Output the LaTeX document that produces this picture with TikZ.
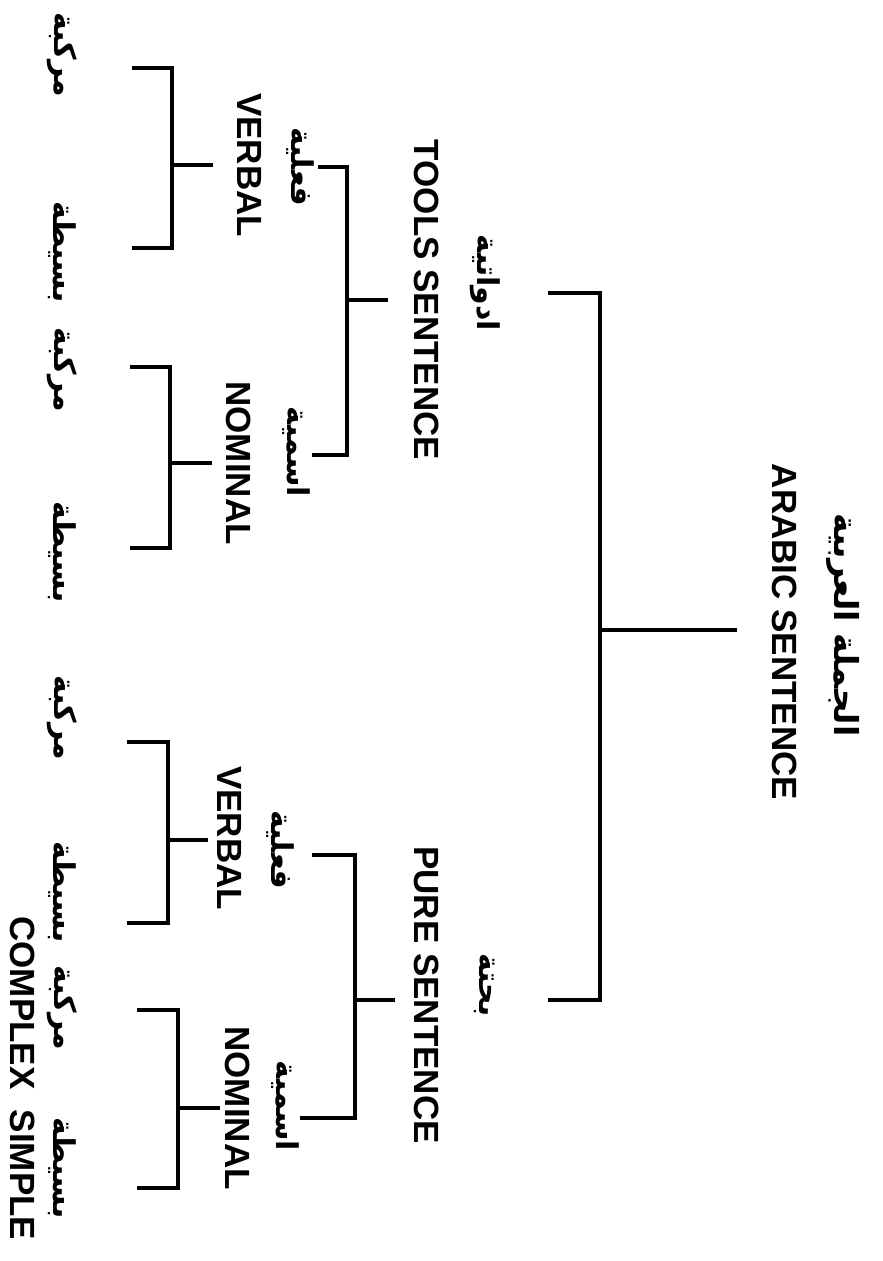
\documentclass[tikz,border=0pt]{standalone}
\usepackage{fontspec}
\setmainfont{Liberation Sans}
\newfontfamily\arfont[Script=Arabic]{DejaVu Sans}
\TeXXeTstate=1
\begin{document}
\begin{tikzpicture}[x=1pt,y=-1pt,
  en/.style={font={\fontsize{35}{40}\selectfont\bfseries}, rotate=-90, inner sep=0pt},
  ar/.style={font={\arfont\fontsize{30}{34}\selectfont\bfseries}, rotate=-90, inner sep=0pt},
  title/.style={font={\arfont\fontsize{33}{38}\selectfont\bfseries}, rotate=-90, inner sep=0pt},
  ln/.style={line width=3.5pt, line join=miter}]
\useasboundingbox[fill=white] (0,0) rectangle (883,1261);

% ---------- root ----------
\node[title] (rootar) at (843,625) {\beginR الجملة العربية\endR};
\node[en] (rooten) at (785,632) {ARABIC SENTENCE};
\coordinate (R-s) at (737,630);
\coordinate (R-m) at (600,630);
\coordinate (R-t) at (600,293);
\coordinate (R-b) at (600,1000);
\coordinate (R-tl) at (548,293);
\coordinate (R-bl) at (548,1000);
\draw[ln] (R-s) -- (R-m);
\draw[ln] (R-tl) -- (R-t) -- (R-b) -- (R-bl);

% ---------- tools sentence ----------
\node[ar] (toolsar) at (485,283) {\beginR ادواتية\endR};
\node[en] (toolsen) at (427,300) {TOOLS SENTENCE};
\coordinate (T-s) at (388,300);
\coordinate (T-m) at (347,300);
\coordinate (T-t) at (347,167);
\coordinate (T-b) at (347,455);
\coordinate (T-tl) at (318,167);
\coordinate (T-bl) at (312,455);
\draw[ln] (T-s) -- (T-m);
\draw[ln] (T-tl) -- (T-t) -- (T-b) -- (T-bl);

% tools / verbal
\node[ar] (tvar) at (300,167) {\beginR فعلية\endR};
\node[en] (tven) at (250,165) {VERBAL};
\coordinate (TV-s) at (213,165);
\coordinate (TV-m) at (172,165);
\coordinate (TV-t) at (172,68);
\coordinate (TV-b) at (172,248);
\coordinate (TV-tl) at (132,68);
\coordinate (TV-bl) at (132,248);
\draw[ln] (TV-s) -- (TV-m);
\draw[ln] (TV-tl) -- (TV-t) -- (TV-b) -- (TV-bl);

% tools / nominal
\node[ar] (tnar) at (296,452) {\beginR اسمية\endR};
\node[en] (tnen) at (239,463) {NOMINAL};
\coordinate (TN-s) at (212,463);
\coordinate (TN-m) at (170,463);
\coordinate (TN-t) at (170,367);
\coordinate (TN-b) at (170,548);
\coordinate (TN-tl) at (130,367);
\coordinate (TN-bl) at (130,548);
\draw[ln] (TN-s) -- (TN-m);
\draw[ln] (TN-tl) -- (TN-t) -- (TN-b) -- (TN-bl);

% tools leaves
\node[ar] (l1) at (62,55) {\beginR مركبة\endR};
\node[ar] (l2) at (62,252) {\beginR بسيطة\endR};
\node[ar] (l3) at (62,370) {\beginR مركبة\endR};
\node[ar] (l4) at (62,552) {\beginR بسيطة\endR};

% ---------- pure sentence ----------
\node[ar] (purear) at (485,985) {\beginR بحتة\endR};
\node[en] (pureen) at (427,995) {PURE SENTENCE};
\coordinate (P-s) at (395,1000);
\coordinate (P-m) at (355,1000);
\coordinate (P-t) at (355,855);
\coordinate (P-b) at (355,1118);
\coordinate (P-tl) at (312,855);
\coordinate (P-bl) at (300,1118);
\draw[ln] (P-s) -- (P-m);
\draw[ln] (P-tl) -- (P-t) -- (P-b) -- (P-bl);

% pure / verbal
\node[ar] (pvar) at (280,850) {\beginR فعلية\endR};
\node[en] (pven) at (230,838) {VERBAL};
\coordinate (PV-s) at (208,840);
\coordinate (PV-m) at (168,840);
\coordinate (PV-t) at (168,742);
\coordinate (PV-b) at (168,923);
\coordinate (PV-tl) at (127,742);
\coordinate (PV-bl) at (127,923);
\draw[ln] (PV-s) -- (PV-m);
\draw[ln] (PV-tl) -- (PV-t) -- (PV-b) -- (PV-bl);

% pure / nominal
\node[ar] (pnar) at (285,1106) {\beginR اسمية\endR};
\node[en] (pnen) at (238,1108) {NOMINAL};
\coordinate (PN-s) at (220,1108);
\coordinate (PN-m) at (178,1108);
\coordinate (PN-t) at (178,1010);
\coordinate (PN-b) at (178,1188);
\coordinate (PN-tl) at (137,1010);
\coordinate (PN-bl) at (137,1188);
\draw[ln] (PN-s) -- (PN-m);
\draw[ln] (PN-tl) -- (PN-t) -- (PN-b) -- (PN-bl);

% pure leaves
\node[ar] (l5) at (62,718) {\beginR مركبة\endR};
\node[ar] (l6) at (62,892) {\beginR بسيطة\endR};
\node[ar] (l7) at (62,1008) {\beginR مركبة\endR};
\node[ar] (l8) at (62,1168) {\beginR بسيطة\endR};

% bottom labels
\node[en] (complex) at (23,1003) {COMPLEX};
\node[en] (simple) at (23,1175) {SIMPLE};
\end{tikzpicture}
\end{document}
